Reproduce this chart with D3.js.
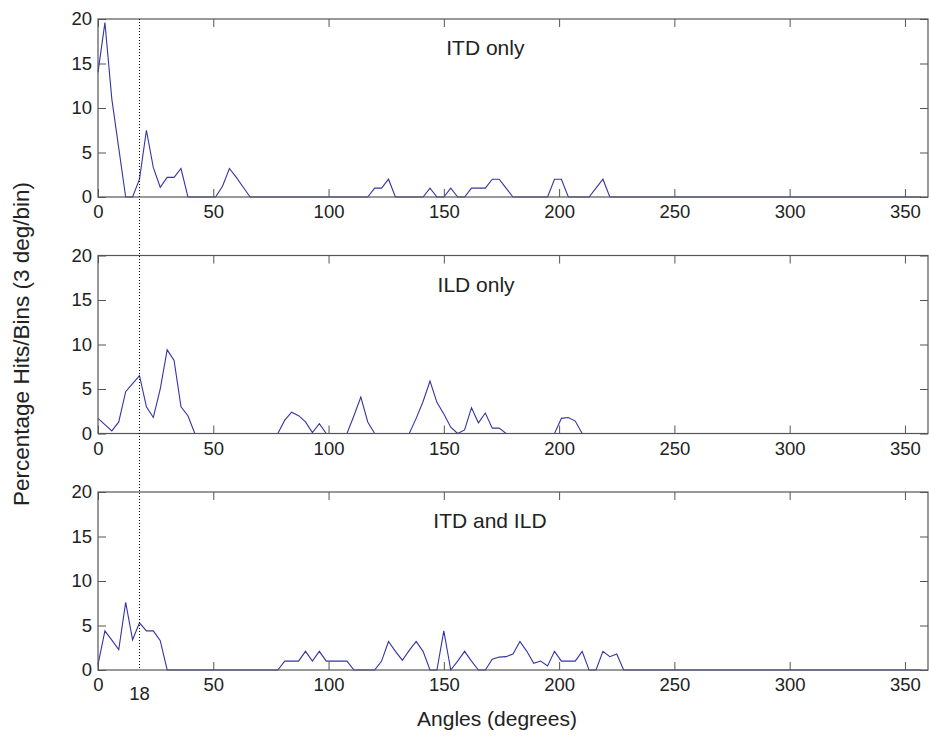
<!DOCTYPE html>
<html>
<head>
<meta charset="utf-8">
<script src="https://cdn.jsdelivr.net/npm/d3@7"></script>
<style>
  body { margin:0; background:#fff; }
  svg { display:block; font-family:"Liberation Sans", Arial, sans-serif; }
  .tick text { font-size:18.5px; fill:#222; font-family:"Liberation Sans", Arial, sans-serif; }
  .tick line { stroke:#555; }
</style>
</head>
<body>
<svg id="chart"></svg>
<script>
// angles (deg) and percentage hits for each panel, 3 deg bins
var itdAngles = [0,3,6,9,12,15,18,21,24,27,30,33,36,39,51,54,57,60,63,66,
  117,120,123,126,129,141,144,147,150,153,156,159,162,165,168,171,174,177,180,
  195,198,201,204,213,216,219,222,357];
var itdValues = [14,19.6,11,5.5,0,0,2,7.5,3.3,1.1,2.2,2.2,3.2,0,0,1.2,3.2,2.2,1.1,0,
  0,1,1,2,0,0,1,0,0,1,0,0,1,1,1,2,2,1,0,
  0,2,2,0,0,1,2,0,0];

var ildAngles = [0,3,6,9,12,15,18,21,24,27,30,33,36,39,42,
  78,81,84,87,90,93,96,99,108,111,114,117,120,
  135,138,141,144,147,150,153,156,159,162,165,168,171,174,177,
  198,201,204,207,210,357];
var ildValues = [1.7,1.0,0.3,1.3,4.7,5.6,6.5,3.0,1.8,5.0,9.4,8.2,3.0,2.0,0,
  0,1.5,2.4,2.0,1.3,0.1,1.1,0,0,2.0,4.1,1.3,0,
  0,1.7,3.6,5.9,3.5,2.2,0.7,0,0.4,2.9,1.2,2.3,0.6,0.6,0,
  0,1.7,1.8,1.4,0,0];

var bothAngles = [0,3,6,9,12,15,18,21,24,27,30,
  78,81,84,87,90,93,96,99,102,105,108,111,
  120,123,126,129,132,135,138,141,144,147,150,153,156,159,162,165,
  168,171,174,177,180,183,186,189,192,195,198,201,204,207,210,213,216,219,222,225,228,357];
var bothValues = [0.6,4.4,3.35,2.3,7.6,3.4,5.3,4.4,4.4,3.3,0,
  0,1,1,1,2.1,1,2.1,1,1,1,1,0,
  0,1,3.2,2.1,1.1,2.2,3.2,2.1,0,0,4.4,0,1,2.1,1,0,
  0,1.2,1.45,1.5,1.8,3.2,2.1,0.75,1,0.45,2.1,1,1,1,2.1,0,0,2.1,1.5,1.8,0,0];

var panelTitles = ["ITD only","ILD only","ITD and ILD"];
var titleAngles = [168,164,170];
var xTicks = [0,50,100,150,200,250,300,350];
var yTicks = [0,5,10,15,20];
var markerAngle = 18;

var screen = {width:929,height:738};
var plot = {left:98,right:928,top:19,step:236.5,height:178};

var svg = d3.select("#chart")
  .attr("width",screen.width)
  .attr("height",screen.height);

var xScale = d3.scaleLinear()
  .domain([0,360])
  .range([plot.left,plot.right]);

var panels = [
  {angles:itdAngles,values:itdValues},
  {angles:ildAngles,values:ildValues},
  {angles:bothAngles,values:bothValues}
];

var drawPanel = function(panel,i)
{
  var top = plot.top + i*plot.step;
  var bottom = top + plot.height;

  var yScale = d3.scaleLinear()
    .domain([0,20])
    .range([bottom,top]);

  var points = panel.angles.map(function(a,j){ return [a,panel.values[j]]; });

  var line = d3.line()
    .x(function(d){ return xScale(d[0]); })
    .y(function(d){ return yScale(d[1]); });

  var g = svg.append("g");

  g.append("path")
    .datum(points)
    .attr("d",line)
    .attr("fill","none")
    .attr("stroke","#3434a4")
    .attr("stroke-width",1.1);

  // bottom axis with labels, ticks pointing in
  g.append("g")
    .attr("transform","translate(0,"+bottom+")")
    .call(d3.axisBottom(xScale).tickValues(xTicks).tickSizeInner(-8).tickSizeOuter(0).tickPadding(8))
    .call(function(s){ s.select(".domain").remove(); });

  g.append("g")
    .attr("transform","translate(0,"+top+")")
    .call(d3.axisTop(xScale).tickValues(xTicks).tickSizeInner(-8).tickSizeOuter(0).tickFormat(""))
    .call(function(s){ s.select(".domain").remove(); });

  g.append("g")
    .attr("transform","translate("+plot.left+",0)")
    .call(d3.axisLeft(yScale).tickValues(yTicks).tickSizeInner(-8).tickSizeOuter(0).tickPadding(6))
    .call(function(s){ s.select(".domain").remove(); });

  g.append("g")
    .attr("transform","translate("+plot.right+",0)")
    .call(d3.axisRight(yScale).tickValues(yTicks).tickSizeInner(-8).tickSizeOuter(0).tickFormat(""))
    .call(function(s){ s.select(".domain").remove(); });

  g.append("rect")
    .attr("x",plot.left)
    .attr("y",top)
    .attr("width",plot.right-plot.left)
    .attr("height",plot.height)
    .attr("fill","none")
    .attr("stroke","#555")
    .attr("stroke-width",1.2);

  g.append("text")
    .attr("x",xScale(titleAngles[i]))
    .attr("y",top+36)
    .attr("text-anchor","middle")
    .attr("font-size",21)
    .attr("fill","#222")
    .text(panelTitles[i]);

  return {top:top,bottom:bottom};
}

var boxes = panels.map(drawPanel);

// dotted marker across all panels
svg.append("line")
  .attr("x1",xScale(markerAngle))
  .attr("x2",xScale(markerAngle))
  .attr("y1",boxes[0].top)
  .attr("y2",boxes[2].bottom)
  .attr("stroke","#000")
  .attr("stroke-width",1)
  .attr("stroke-dasharray","1,2");

svg.append("text")
  .attr("x",xScale(markerAngle))
  .attr("y",boxes[2].bottom+30)
  .attr("text-anchor","middle")
  .attr("font-size",18.5)
  .attr("fill","#222")
  .text(markerAngle);

svg.append("text")
  .attr("x",497)
  .attr("y",726)
  .attr("text-anchor","middle")
  .attr("font-size",21)
  .attr("fill","#222")
  .text("Angles (degrees)");

svg.append("text")
  .attr("transform","translate(29,344) rotate(-90)")
  .attr("text-anchor","middle")
  .attr("font-size",22.5)
  .attr("fill","#222")
  .text("Percentage Hits/Bins (3 deg/bin)");
</script>
</body>
</html>
